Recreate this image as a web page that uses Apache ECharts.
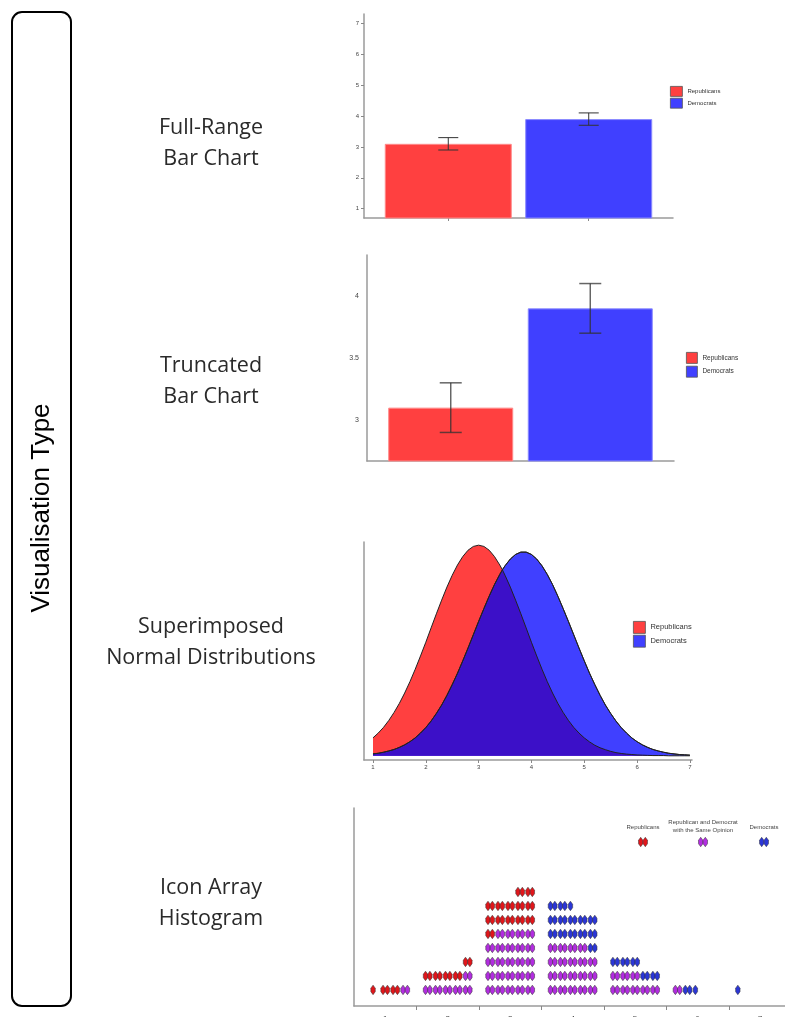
<!DOCTYPE html>
<html><head><meta charset="utf-8">
<script src="https://cdn.jsdelivr.net/npm/echarts@6/dist/echarts.min.js"></script>
<style>html,body{margin:0;padding:0;background:#fff;}#c{width:785px;height:1017px;}</style>
</head><body><div id="c"></div>
<script>
// ---------- data ----------
const groups = ['Republicans', 'Democrats'];
const groupPos = [1, 2];
const meanScores = [3.1, 3.9];
const errLow = [2.9, 3.7];
const errHigh = [3.3, 4.1];
const fullTicks = [1, 2, 3, 4, 5, 6, 7];
const truncTicks = [3, 3.5, 4];

const densityX = [1.0, 1.1, 1.2, 1.3, 1.4, 1.5, 1.6, 1.7, 1.8, 1.9,
  2.0, 2.1, 2.2, 2.3, 2.4, 2.5, 2.6, 2.7, 2.8, 2.9,
  3.0, 3.1, 3.2, 3.3, 3.4, 3.45, 3.5, 3.6, 3.7, 3.8, 3.9,
  4.0, 4.1, 4.2, 4.3, 4.4, 4.5, 4.6, 4.7, 4.8, 4.9,
  5.0, 5.1, 5.2, 5.3, 5.4, 5.5, 5.6, 5.7, 5.8, 5.9,
  6.0, 6.1, 6.2, 6.3, 6.4, 6.5, 6.6, 6.7, 6.8, 6.9, 7.0];
const repDensity = [0.085, 0.108, 0.135, 0.168, 0.206, 0.249, 0.298, 0.352, 0.411, 0.474,
  0.539, 0.607, 0.674, 0.739, 0.801, 0.857, 0.906, 0.946, 0.976, 0.994,
  1.0, 0.994, 0.976, 0.946, 0.906, 0.883, 0.857, 0.801, 0.739, 0.674, 0.607,
  0.539, 0.474, 0.411, 0.352, 0.298, 0.249, 0.206, 0.168, 0.135, 0.108,
  0.085, 0.066, 0.050, 0.038, 0.029, 0.021, 0.015, 0.011, 0.008, 0.006,
  0.004, 0.003, 0.002, 0.001, 0.001, 0.001, 0, 0, 0, 0, 0];
const demDensity = [0.009, 0.012, 0.017, 0.023, 0.030, 0.040, 0.052, 0.067, 0.085, 0.108,
  0.134, 0.165, 0.201, 0.241, 0.287, 0.338, 0.392, 0.451, 0.512, 0.575,
  0.638, 0.699, 0.758, 0.813, 0.861, 0.883, 0.902, 0.934, 0.956, 0.967, 0.967,
  0.956, 0.934, 0.902, 0.861, 0.813, 0.758, 0.699, 0.638, 0.575, 0.512,
  0.451, 0.392, 0.338, 0.287, 0.241, 0.201, 0.165, 0.134, 0.108, 0.085,
  0.067, 0.052, 0.040, 0.030, 0.023, 0.017, 0.012, 0.009, 0.006, 0.0045, 0.003];
const scaleTicks = [1, 2, 3, 4, 5, 6, 7];

const iconBins = [1, 2, 3, 4, 5, 6, 7];
const repIconCounts = [3.5, 11, 37, 19, 8, 1, 0];
const demIconCounts = [1, 6, 24, 32.5, 13, 2.5, 0.5];
const iconBinEdges = [1.5, 2.5, 3.5, 4.5, 5.5, 6.5];

const rowLabels = ['Full-Range\nBar Chart', 'Truncated\nBar Chart', 'Superimposed\nNormal Distributions', 'Icon Array\nHistogram'];
const sideTitle = 'Visualisation Type';
const iconLegend = ['Republicans', 'Republican and Democrat\nwith the Same Opinion', 'Democrats'];

// ---------- style ----------
const RED = '#ff4040', BLUE = '#4040ff', OVERLAP = '#3c10c8';
const ICON_RED = '#e0161b', ICON_PURPLE = '#b22de0', ICON_BLUE = '#2b36d6';
const AXIS = { lineStyle: { color: '#9a9a9a', width: 1.5 } };
const ICON_PATH = 'path://M2.2,0 L4.4,3 L4.4,6.5 L2.2,9.5 L0,6.5 L0,3 Z';

const chart = echarts.init(document.getElementById('c'), null, { renderer: 'canvas' });

function errRender(capHalf, color, width) {
  return function (params, api) {
    const x = api.value(0);
    const lo = api.coord([x, api.value(1)]);
    const hi = api.coord([x, api.value(2)]);
    const st = { stroke: color, lineWidth: width };
    return { type: 'group', children: [
      { type: 'line', shape: { x1: lo[0], y1: lo[1], x2: hi[0], y2: hi[1] }, style: st },
      { type: 'line', shape: { x1: lo[0] - capHalf, y1: lo[1], x2: lo[0] + capHalf, y2: lo[1] }, style: st },
      { type: 'line', shape: { x1: hi[0] - capHalf, y1: hi[1], x2: hi[0] + capHalf, y2: hi[1] }, style: st }
    ]};
  };
}
const errData = groupPos.map((g, i) => [g, errLow[i], errHigh[i]]);

// icon layout (in axis units)
const SLOT = 0.16, HALF = 0.035;
const iconsRed = [], iconsPurple = [], iconsBlue = [];
iconBins.forEach((b, i) => {
  const r = repIconCounts[i], d = demIconCounts[i];
  const same = Math.min(r, d);
  const repSide = r >= d;
  const extra = repSide ? r - same : d - same;
  const units = [];
  for (let k = 0; k < same; k++) units.push({ t: iconsPurple, half: same - k < 1 });
  for (let k = 0; k < extra; k++) units.push({ t: repSide ? iconsRed : iconsBlue, half: extra - k < 1 });
  units.forEach((u, k) => {
    const row = Math.floor(k / 5), col = k % 5;
    const slot = repSide ? 4 - col : col;
    const cx = b + (slot - 2) * SLOT;
    u.t.push([cx - HALF, row + 1]);
    if (!u.half) u.t.push([cx + HALF, row + 1]);
  });
});

const overlapDensity = repDensity.map((v, i) => Math.min(v, demDensity[i]));
const pairs = arr => densityX.map((x, i) => [x, arr[i]]);

function legendCfg(left, top, w, h, gap, fs) {
  return { data: groups, orient: 'vertical', left: left, top: top, padding: 0,
    itemWidth: w, itemHeight: h, itemGap: gap, icon: 'rect', itemTextGap: 4,
    itemStyle: { borderColor: '#555', borderWidth: 0.8 },
    textStyle: { fontSize: fs, color: '#333', fontFamily: 'Liberation Sans' } };
}

function iconPoly(cx, cy, color) {
  return { type: 'polygon', shape: { points: [[cx, cy - 4.75], [cx + 2.2, cy - 1.75], [cx + 2.2, cy + 1.75], [cx, cy + 4.75], [cx - 2.2, cy + 1.75], [cx - 2.2, cy - 1.75]] },
    style: { fill: color, stroke: '#333', lineWidth: 0.5 } };
}

const graphics = [
  { type: 'rect', shape: { x: 12, y: 12, width: 59, height: 994, r: 10 }, style: { fill: 'none', stroke: '#000', lineWidth: 2 } },
  { type: 'text', x: 42, y: 508, rotation: Math.PI / 2,
    style: { text: sideTitle, font: '26px "Liberation Sans"', fill: '#000', align: 'center', verticalAlign: 'middle' } }
];
const labelY = [143, 381.5, 642.5, 903.5];
rowLabels.forEach((t, i) => graphics.push({ type: 'text', x: 211, y: labelY[i],
  style: { text: t, font: '21.5px "Open Sans"', lineHeight: 31, fill: '#2a2a2a', align: 'center', verticalAlign: 'middle' } }));
const legX = [643, 703, 764], legCol = [ICON_RED, ICON_PURPLE, ICON_BLUE];
iconLegend.forEach((t, i) => {
  graphics.push({ type: 'text', x: legX[i], y: i === 1 ? 826 : 827,
    style: { text: t, font: '6px "Liberation Sans"', lineHeight: 8, fill: '#444', align: 'center', verticalAlign: 'middle' } });
  graphics.push(iconPoly(legX[i] - 2.3, 842, legCol[i]));
  graphics.push(iconPoly(legX[i] + 2.3, 842, legCol[i]));
});

const hidden = { show: false };
const option = {
  animation: false,
  backgroundColor: '#fff',
  grid: [
    { left: 364, top: 14, width: 309, height: 204, outerBoundsMode: 'none', containLabel: false },
    { left: 367, top: 255, width: 307, height: 206, outerBoundsMode: 'none', containLabel: false },
    { left: 364, top: 542, width: 328, height: 218, outerBoundsMode: 'none', containLabel: false },
    { left: 354, top: 808, width: 431, height: 198, outerBoundsMode: 'none', containLabel: false }
  ],
  xAxis: [
    { gridIndex: 0, type: 'value', min: 0.4, max: 2.6, axisLine: { show: true, onZero: false, ...AXIS },
      axisTick: { show: true, length: 3, customValues: groupPos, lineStyle: { color: '#888' } }, axisLabel: hidden, splitLine: hidden },
    { gridIndex: 1, type: 'value', min: 0.4, max: 2.6, axisLine: { show: true, onZero: false, ...AXIS },
      axisTick: hidden, axisLabel: hidden, splitLine: hidden },
    { gridIndex: 2, type: 'value', min: 0.83, max: 7.04, axisLine: { show: true, onZero: false, ...AXIS },
      axisTick: { show: true, length: 3, customValues: scaleTicks, lineStyle: { color: '#888' } },
      axisLabel: { customValues: scaleTicks, fontSize: 6, color: '#444', margin: 4 }, splitLine: hidden },
    { gridIndex: 3, type: 'value', min: 0.5, max: 7.4, axisLine: { show: true, onZero: false, ...AXIS },
      axisTick: { show: true, length: 4, customValues: iconBinEdges, lineStyle: { color: '#888' } },
      axisLabel: { customValues: iconBins, fontSize: 8, color: '#444', margin: 9 }, splitLine: hidden }
  ],
  yAxis: [
    { gridIndex: 0, type: 'value', min: 0.7, max: 7.3, axisLine: { show: true, onZero: false, ...AXIS },
      axisTick: { show: true, length: 3, customValues: fullTicks, lineStyle: { color: '#888' } },
      axisLabel: { customValues: fullTicks, fontSize: 6, color: '#444', margin: 5 }, splitLine: hidden },
    { gridIndex: 1, type: 'value', min: 2.67, max: 4.33, axisLine: { show: true, onZero: false, ...AXIS },
      axisTick: hidden, axisLabel: { customValues: truncTicks, fontSize: 7, color: '#444', margin: 8 }, splitLine: hidden },
    { gridIndex: 2, type: 'value', min: -0.02, max: 1.015, axisLine: { show: true, onZero: false, ...AXIS },
      axisTick: hidden, axisLabel: hidden, splitLine: hidden },
    { gridIndex: 3, type: 'value', min: -0.15, max: 14, axisLine: { show: true, onZero: false, ...AXIS },
      axisTick: hidden, axisLabel: hidden, splitLine: hidden }
  ],
  legend: [
    legendCfg(670, 86, 12, 10, 1, 6),
    legendCfg(686, 352, 11, 11, 2, 6.5),
    legendCfg(633, 621, 12, 12, 1, 7.5)
  ],
  series: [
    { type: 'bar', name: groups[0], xAxisIndex: 0, yAxisIndex: 0, barWidth: 127, barGap: '-100%',
      data: [[groupPos[0], meanScores[0]]], itemStyle: { color: RED, borderColor: '#ff8a8a', borderWidth: 1 } },
    { type: 'bar', name: groups[1], xAxisIndex: 0, yAxisIndex: 0, barWidth: 127, barGap: '-100%',
      data: [[groupPos[1], meanScores[1]]], itemStyle: { color: BLUE, borderColor: '#8a8aff', borderWidth: 1 } },
    { type: 'custom', name: 'err1', xAxisIndex: 0, yAxisIndex: 0, renderItem: errRender(10, '#333', 1),
      encode: { x: 0, y: [1, 2] }, data: errData, z: 5 },
    { type: 'bar', name: groups[0], xAxisIndex: 1, yAxisIndex: 1, barWidth: 125, barGap: '-100%',
      data: [[groupPos[0], meanScores[0]]], itemStyle: { color: RED, borderColor: '#ff8a8a', borderWidth: 1 } },
    { type: 'bar', name: groups[1], xAxisIndex: 1, yAxisIndex: 1, barWidth: 125, barGap: '-100%',
      data: [[groupPos[1], meanScores[1]]], itemStyle: { color: BLUE, borderColor: '#8a8aff', borderWidth: 1 } },
    { type: 'custom', name: 'err2', xAxisIndex: 1, yAxisIndex: 1, renderItem: errRender(11, 'rgba(50,50,50,0.75)', 1.5),
      encode: { x: 0, y: [1, 2] }, data: errData, z: 5 },
    { type: 'line', name: groups[0], xAxisIndex: 2, yAxisIndex: 2, data: pairs(repDensity), smooth: false, symbol: 'none',
      itemStyle: { color: RED }, lineStyle: { color: '#222', width: 1 }, areaStyle: { color: RED, opacity: 1 } },
    { type: 'line', name: groups[1], xAxisIndex: 2, yAxisIndex: 2, data: pairs(demDensity), smooth: false, symbol: 'none',
      itemStyle: { color: BLUE }, lineStyle: { color: '#222', width: 1 }, areaStyle: { color: BLUE, opacity: 1 } },
    { type: 'line', name: 'overlap', xAxisIndex: 2, yAxisIndex: 2, data: pairs(overlapDensity), smooth: false, symbol: 'none',
      lineStyle: { width: 0 }, areaStyle: { color: OVERLAP, opacity: 1 } },
    { type: 'line', name: 'demOutline', xAxisIndex: 2, yAxisIndex: 2, data: pairs(demDensity), smooth: false, symbol: 'none',
      lineStyle: { color: '#222', width: 1 } },
    { type: 'scatter', name: 'iconsRed', xAxisIndex: 3, yAxisIndex: 3, data: iconsRed, symbol: ICON_PATH, symbolSize: [4.4, 9.5],
      itemStyle: { color: ICON_RED, borderColor: '#333', borderWidth: 0.5, opacity: 1 } },
    { type: 'scatter', name: 'iconsPurple', xAxisIndex: 3, yAxisIndex: 3, data: iconsPurple, symbol: ICON_PATH, symbolSize: [4.4, 9.5],
      itemStyle: { color: ICON_PURPLE, borderColor: '#333', borderWidth: 0.5, opacity: 1 } },
    { type: 'scatter', name: 'iconsBlue', xAxisIndex: 3, yAxisIndex: 3, data: iconsBlue, symbol: ICON_PATH, symbolSize: [4.4, 9.5],
      itemStyle: { color: ICON_BLUE, borderColor: '#333', borderWidth: 0.5, opacity: 1 } }
  ],
  graphic: graphics
};
chart.setOption(option);
</script></body></html>
